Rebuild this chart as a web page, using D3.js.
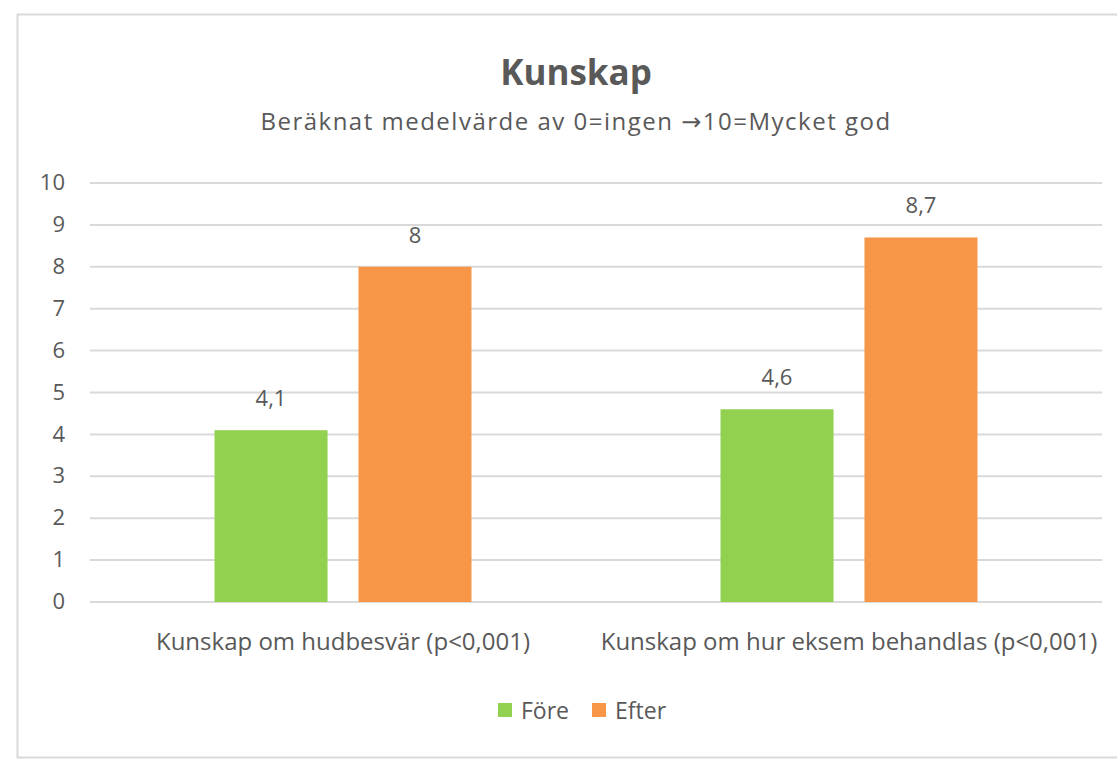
<!DOCTYPE html>
<html>
<head>
<meta charset="utf-8">
<script src="https://cdn.jsdelivr.net/npm/d3@7"></script>
<style>
  body { margin: 0; background: #fff; }
  text { font-family: "Open Sans", "Liberation Sans", sans-serif; fill: #595959; }
</style>
</head>
<body>
<div id="chart"></div>
<script>
  var categories = ["Kunskap om hudbesvär (p<0,001)", "Kunskap om hur eksem behandlas (p<0,001)"];
  var seriesNames = ["Före", "Efter"];
  var fore = [4.1, 4.6];
  var efter = [8, 8.7];
  var yTicks = [0, 1, 2, 3, 4, 5, 6, 7, 8, 9, 10];
  var colors = ["#92d050", "#f79646"];

  var width = 1117,
      height = 759;

  var svg = d3.select("#chart").append("svg")
      .attr("width", width)
      .attr("height", height);

  // chart border (runs off the right edge)
  svg.append("rect")
      .attr("x", 17.5)
      .attr("y", 14.5)
      .attr("width", 1130)
      .attr("height", 743)
      .attr("fill", "#fff")
      .attr("stroke", "#d9d9d9")
      .attr("stroke-width", 2);

  var x0 = d3.scaleBand()
      .domain(categories)
      .range([90, 1102]);

  var x1 = d3.scaleBand()
      .domain(seriesNames)
      .range([0, x0.bandwidth()])
      .paddingInner(0.215)
      .paddingOuter(0.865);

  var y = d3.scaleLinear()
      .domain([0, 10])
      .range([602, 183]);

  var color = d3.scaleOrdinal()
      .domain(seriesNames)
      .range(colors);

  // gridlines
  svg.append("g")
    .selectAll("line")
    .data(yTicks)
    .enter().append("line")
      .attr("x1", 90)
      .attr("x2", 1102)
      .attr("y1", function(d) { return y(d); })
      .attr("y2", function(d) { return y(d); })
      .attr("stroke", "#d9d9d9")
      .attr("stroke-width", 2);

  // y axis labels
  var yAxis = svg.append("g")
      .attr("transform", "translate(72,0)")
      .call(d3.axisLeft(y).tickValues(yTicks).tickSize(0).tickPadding(7));
  yAxis.select(".domain").remove();
  yAxis.selectAll("text")
      .attr("font-size", "22px")
      .attr("dy", "0.3em")
      .style("font-family", "'Open Sans', sans-serif")
      .attr("fill", "#595959");

  // bars
  var rows = categories.map(function(c, i) {
    return { cat: c, values: [{ key: "Före", v: fore[i] }, { key: "Efter", v: efter[i] }] };
  });

  var groups = svg.append("g")
    .selectAll("g")
    .data(rows)
    .enter().append("g")
      .attr("transform", function(d) { return "translate(" + x0(d.cat) + ",0)"; });

  groups.selectAll("rect")
    .data(function(d) { return d.values; })
    .enter().append("rect")
      .attr("x", function(d) { return x1(d.key); })
      .attr("width", x1.bandwidth())
      .attr("y", function(d) { return y(d.v); })
      .attr("height", function(d) { return y(0) - y(d.v); })
      .attr("fill", function(d) { return color(d.key); });

  groups.selectAll("text")
    .data(function(d) { return d.values; })
    .enter().append("text")
      .attr("x", function(d) { return x1(d.key) + x1.bandwidth() / 2; })
      .attr("y", function(d) { return y(d.v) - 24; })
      .attr("text-anchor", "middle")
      .attr("font-size", "22px")
      .text(function(d) { return String(d.v).replace(".", ","); });

  // category labels
  svg.append("g")
    .selectAll("text")
    .data(categories)
    .enter().append("text")
      .attr("x", function(d) { return x0(d) + x0.bandwidth() / 2; })
      .attr("y", 650)
      .attr("text-anchor", "middle")
      .attr("font-size", "24px")
      .text(function(d) { return d; });

  // title
  svg.append("text")
      .attr("x", 576)
      .attr("y", 85)
      .attr("text-anchor", "middle")
      .attr("font-size", "35px")
      .attr("font-weight", "bold")
      .text("Kunskap");

  var sub = svg.append("text")
      .attr("x", 576)
      .attr("y", 130)
      .attr("text-anchor", "middle")
      .attr("font-size", "24px")
      .attr("letter-spacing", "1.5px");
  sub.append("tspan").text("Beräknat medelvärde av 0=ingen ");
  sub.append("tspan").style("font-family", "'DejaVu Sans', sans-serif").text("→");
  sub.append("tspan").text("10=Mycket god");

  // legend
  var legendX = [498, 592];
  var legend = svg.append("g")
    .selectAll("g")
    .data(seriesNames)
    .enter().append("g")
      .attr("transform", function(d, i) { return "translate(" + legendX[i] + ",703)"; });

  legend.append("rect")
      .attr("width", 14)
      .attr("height", 14)
      .attr("fill", function(d) { return color(d); });

  legend.append("text")
      .attr("x", 23)
      .attr("y", 16)
      .attr("font-size", "23px")
      .text(function(d) { return d; });
</script>
</body>
</html>
